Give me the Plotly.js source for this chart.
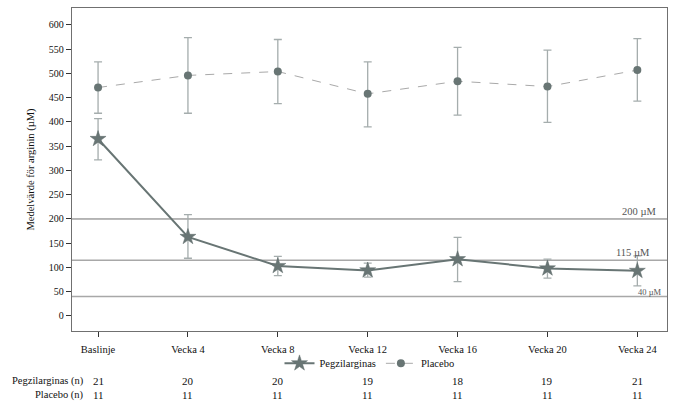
<!DOCTYPE html>
<html>
<head>
<meta charset="utf-8">
<script src="https://cdn.plot.ly/plotly-3.0.1.min.js"></script>
<style>html,body{margin:0;padding:0;background:#fff;}#chart{width:691px;height:414px;}</style>
</head>
<body>
<div id="chart"></div>
<script>
const categories = ["Baslinje", "Vecka 4", "Vecka 8", "Vecka 12", "Vecka 16", "Vecka 20", "Vecka 24"];
const pegMean  = [365, 163, 103, 94, 117, 98, 93];
const pegUpper = [407, 209, 123, 109, 162, 117, 124];
const pegLower = [322, 119, 83, 80, 71, 78, 62];
const plaMean  = [471, 496, 504, 458, 484, 473, 507];
const plaUpper = [524, 574, 570, 524, 554, 548, 572];
const plaLower = [418, 418, 438, 390, 414, 399, 443];
const pegN = [21, 20, 20, 19, 18, 19, 21];
const plaN = [11, 11, 11, 11, 11, 11, 11];
const refLevels = [200, 115, 40];
const refLabels = ["200 µM", "115 µM", "40 µM"];
const rowLabels = ["Pegzilarginas (n)", "Placebo (n)"];

const FONT = "Liberation Serif";
const idx = categories.map((c, i) => i);

const traces = [
  {
    x: idx, y: pegMean, name: "Pegzilarginas", type: "scatter", mode: "lines+markers",
    line: {color: "#687574", width: 2},
    marker: {symbol: "star", size: 12, color: "#687574", line: {color: "#5f6b6b", width: 0.5}},
    error_y: {type: "data", symmetric: false,
      array: pegUpper.map((u, i) => u - pegMean[i]),
      arrayminus: pegMean.map((m, i) => m - pegLower[i]),
      color: "#a5adad", thickness: 1.3, width: 4}
  },
  {
    x: idx, y: plaMean, name: "Placebo", type: "scatter", mode: "lines+markers",
    line: {color: "#a9a9a9", width: 1, dash: "dash"},
    marker: {symbol: "circle", size: 8, color: "#687574"},
    error_y: {type: "data", symmetric: false,
      array: plaUpper.map((u, i) => u - plaMean[i]),
      arrayminus: plaMean.map((m, i) => m - plaLower[i]),
      color: "#a5adad", thickness: 1.3, width: 4}
  }
];

const refColors = ["#707070", "#a8a8a8", "#a8a8a8"];
const refWidths = [1, 1.5, 1.5];
const shapes = refLevels.map((v, i) => ({
  type: "line", xref: "paper", yref: "y", x0: 0, x1: 1, y0: v, y1: v,
  line: {color: refColors[i], width: refWidths[i]}, layer: "below"
}));

const annotations = [];
const refX = [0.985, 0.975, 0.995];
const refSize = [10.5, 10.5, 8.5];
refLevels.forEach((v, i) => {
  annotations.push({xref: "paper", yref: "y", x: refX[i], y: v, text: refLabels[i],
    showarrow: false, xanchor: "right", yanchor: "bottom", yshift: i === 2 ? -2 : 0,
    font: {family: FONT, size: refSize[i], color: "#555"}});
});
const rowY = [-0.155, -0.198];
[pegN, plaN].forEach((arr, r) => {
  annotations.push({xref: "paper", yref: "paper", x: 0.0235, y: rowY[r], text: rowLabels[r],
    showarrow: false, xanchor: "right", yanchor: "middle",
    font: {family: FONT, size: 10.5, color: "#111"}});
  arr.forEach((n, i) => {
    annotations.push({xref: "x", yref: "paper", x: i, y: rowY[r], text: String(n),
      showarrow: false, xanchor: "center", yanchor: "middle",
      font: {family: FONT, size: 11, color: "#111"}});
  });
});

const layout = {
  width: 691, height: 414,
  margin: {l: 72, r: 24, t: 8, b: 83},
  paper_bgcolor: "#fff", plot_bgcolor: "#fff",
  font: {family: FONT, size: 10.5, color: "#111"},
  showlegend: true,
  legend: {orientation: "h", x: 0.5, xanchor: "center", y: -0.1, yanchor: "middle",
    font: {family: FONT, size: 10.5, color: "#111"}, itemwidth: 30, itemsizing: "trace",
    tracegroupgap: 0, bgcolor: "rgba(0,0,0,0)"},
  xaxis: {
    range: [-0.29, 6.33], tickmode: "array", tickvals: idx, ticktext: categories,
    showgrid: false, zeroline: false, showline: true, mirror: true,
    linecolor: "#707070", linewidth: 1.3,
    ticks: "outside", ticklen: 5, tickcolor: "#333", tickwidth: 1,
    ticklabelstandoff: 3,
    tickfont: {family: FONT, size: 10.5, color: "#111"}
  },
  yaxis: {
    range: [-31, 635], tickmode: "linear", tick0: 0, dtick: 50,
    showgrid: false, zeroline: false, showline: true, mirror: true,
    linecolor: "#707070", linewidth: 1.3,
    ticks: "outside", ticklen: 5, tickcolor: "#333", tickwidth: 1,
    tickfont: {family: FONT, size: 10, color: "#111"},
    title: {text: "Medelvärde för arginin (µM)", font: {family: FONT, size: 10.5, color: "#111"}, standoff: 12}
  },
  shapes: shapes,
  annotations: annotations
};

Plotly.newPlot("chart", traces, layout, {displayModeBar: false, staticPlot: true});
</script>
</body>
</html>
